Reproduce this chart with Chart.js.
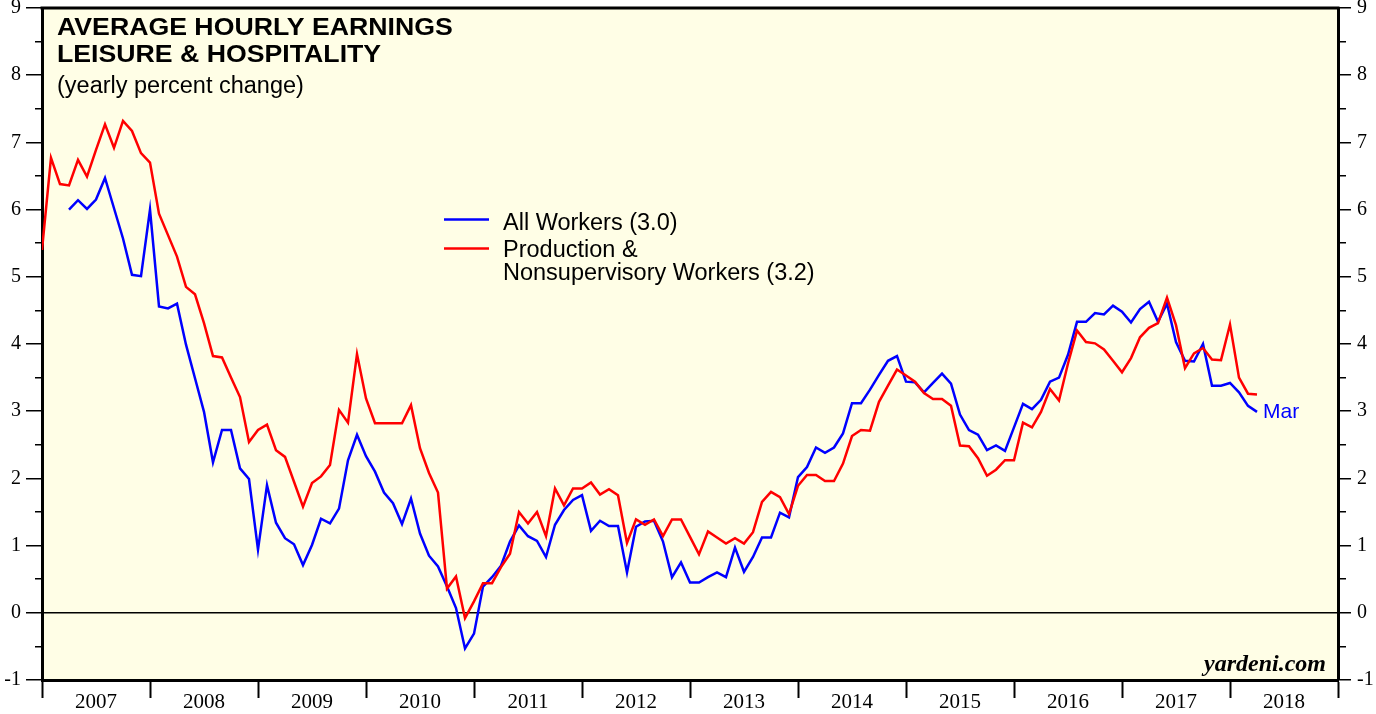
<!DOCTYPE html>
<html>
<head>
<meta charset="utf-8">
<title>Average Hourly Earnings: Leisure &amp; Hospitality</title>
<script src="https://cdn.jsdelivr.net/npm/chart.js@4.4.1/dist/chart.umd.min.js"></script>
<style>
  html, body { margin: 0; padding: 0; background: #fff; }
  #wrap { width: 1376px; height: 714px; }
</style>
</head>
<body>
<div id="wrap"><canvas id="c" width="1376" height="714"></canvas></div>
<script>
// Bottom axis labels, one per year (centred inside the year)
const YEARS = ['2007', '2008', '2009', '2010', '2011', '2012', '2013', '2014', '2015', '2016', '2017', '2018'];

// Yearly percent change, monthly from Dec 2006 to Mar 2018 (plotted at month end)
const PROD_WORKERS = [
  5.40,
  6.77, 6.38, 6.36, 6.74, 6.49, 6.89, 7.27, 6.92, 7.32, 7.17, 6.84, 6.70,
  5.94, 5.62, 5.30, 4.85, 4.74, 4.31, 3.82, 3.80, 3.50, 3.21, 2.54, 2.72,
  2.80, 2.42, 2.32, 1.95, 1.58, 1.93, 2.03, 2.20, 3.02, 2.83, 3.85, 3.19,
  2.82, 2.82, 2.82, 2.82, 3.09, 2.45, 2.08, 1.79, 0.36, 0.54, -0.08, 0.17,
  0.44, 0.44, 0.68, 0.88, 1.50, 1.33, 1.50, 1.14, 1.85, 1.60, 1.85, 1.85,
  1.94, 1.76, 1.84, 1.75, 1.04, 1.39, 1.31, 1.39, 1.14, 1.39, 1.39, 1.13,
  0.87, 1.21, 1.12, 1.03, 1.11, 1.03, 1.20, 1.65, 1.80, 1.72, 1.47, 1.89,
  2.05, 2.05, 1.96, 1.96, 2.22, 2.63, 2.72, 2.71, 3.14, 3.38, 3.62, 3.53,
  3.44, 3.27, 3.18, 3.18, 3.08, 2.49, 2.48, 2.30, 2.04, 2.13, 2.27, 2.27,
  2.83, 2.76, 2.99, 3.33, 3.16, 3.71, 4.20, 4.03, 4.01, 3.92, 3.75, 3.58,
  3.79, 4.10, 4.24, 4.31, 4.69, 4.28, 3.64, 3.86, 3.94, 3.77, 3.76, 4.29,
  3.50, 3.26, 3.25
];

const ALL_WORKERS = [
  null,
  null, null, 6.00, 6.14, 6.01, 6.15, 6.47, 6.02, 5.57, 5.03, 5.01, 6.00,
  4.56, 4.53, 4.60, 3.99, 3.49, 2.99, 2.24, 2.72, 2.72, 2.15, 1.99, 0.94,
  1.90, 1.34, 1.11, 1.02, 0.71, 1.01, 1.40, 1.33, 1.55, 2.27, 2.65, 2.33,
  2.10, 1.79, 1.63, 1.32, 1.70, 1.18, 0.85, 0.69, 0.39, 0.07, -0.53, -0.31,
  0.39, 0.53, 0.70, 1.06, 1.30, 1.14, 1.07, 0.83, 1.31, 1.53, 1.68, 1.75,
  1.22, 1.37, 1.29, 1.29, 0.60, 1.28, 1.36, 1.37, 1.06, 0.53, 0.75, 0.45,
  0.45, 0.53, 0.60, 0.53, 0.97, 0.61, 0.83, 1.12, 1.12, 1.49, 1.42, 2.02,
  2.17, 2.46, 2.38, 2.46, 2.67, 3.12, 3.12, 3.32, 3.54, 3.75, 3.82, 3.44,
  3.43, 3.28, 3.42, 3.56, 3.41, 2.95, 2.72, 2.65, 2.42, 2.49, 2.41, 2.76,
  3.11, 3.03, 3.17, 3.44, 3.50, 3.84, 4.33, 4.33, 4.46, 4.44, 4.57, 4.48,
  4.32, 4.52, 4.63, 4.33, 4.60, 4.03, 3.75, 3.74, 4.00, 3.38, 3.38, 3.42,
  3.28, 3.08, 2.99
];

const SERIES_NAMES = ['All Workers (3.0)', ['Production &', 'Nonsupervisory Workers (3.2)']];
const TITLE = ['AVERAGE HOURLY EARNINGS', 'LEISURE & HOSPITALITY'];
const SUBTITLE = '(yearly percent change)';
const LAST_LABEL = 'Mar';
const SOURCE = 'yardeni.com';

const BLUE = '#0000ff';
const RED = '#ff0000';
const PAPER = '#fffee6';

const toPoints = arr => arr.map((v, i) => ({ x: i, y: v }));

const serif = '"Liberation Serif", "Times New Roman", serif';
const sans = '"Liberation Sans", Arial, Helvetica, sans-serif';

// keep the frame where the original has it: no extra room for overhanging labels
const noOverhang = s => { s.paddingTop = 0; s.paddingBottom = 0; s.paddingLeft = 0; s.paddingRight = 0; };

// y axis ticks every 0.5; half steps only get a short mark
const yAxis = (side) => ({
  position: side,
  min: -1,
  max: 9,
  afterFit: s => { s.width = side === 'left' ? 42 : 38; noOverhang(s); },
  border: { display: true, color: '#000', width: 3 },
  grid: {
    drawOnChartArea: side === 'left',
    color: c => (c.tick && c.tick.value === 0 ? '#000' : 'rgba(0,0,0,0)'),
    lineWidth: 1.5,
    tickLength: side === 'left' ? 16 : 13,
    tickColor: '#000',
    tickWidth: 1.5,
    tickBorderDash: c => {
      if (!c.tick || Number.isInteger(c.tick.value)) return [];
      return side === 'left' ? [0, 9, 7, 0] : [6, 40];
    },
  },
  ticks: {
    stepSize: 0.5,
    autoSkip: false,
    padding: side === 'left' ? 5 : 6,
    color: '#000',
    font: { family: serif, size: 20 },
    callback: v => (Number.isInteger(v) ? String(v) : ''),
  },
});

const paper = {
  id: 'paper',
  beforeDraw(chart) {
    const { ctx, chartArea: a } = chart;
    ctx.save();
    ctx.fillStyle = '#fff';
    ctx.fillRect(0, 0, chart.width, chart.height);
    ctx.fillStyle = PAPER;
    ctx.fillRect(a.left, a.top, a.right - a.left, a.bottom - a.top);
    ctx.restore();
  },
  afterDraw(chart) {
    const { ctx, chartArea: a } = chart;
    ctx.save();
    // top frame line
    ctx.strokeStyle = '#000';
    ctx.lineWidth = 3;
    ctx.beginPath();
    ctx.moveTo(a.left - 1.5, a.top);
    ctx.lineTo(a.right + 1.5, a.top);
    ctx.stroke();

    // title, slightly wide like the original face
    ctx.fillStyle = '#000';
    ctx.textBaseline = 'alphabetic';
    ctx.textAlign = 'left';
    ctx.font = 'bold 23px ' + sans;
    [[TITLE[0], 35], [TITLE[1], 62]].forEach(([t, y]) => {
      ctx.save();
      ctx.translate(57, y);
      ctx.scale(1.16, 1);
      ctx.fillText(t, 0, 0);
      ctx.restore();
    });
    ctx.font = '23.5px ' + sans;
    ctx.fillText(SUBTITLE, 57, 93);

    // legend
    const legend = [[BLUE, 219.5, [SERIES_NAMES[0]], [229.5]], [RED, 248.5, SERIES_NAMES[1], [256.5, 280]]];
    ctx.font = '23.5px ' + sans;
    legend.forEach(([col, ly, lines, ys]) => {
      ctx.strokeStyle = col;
      ctx.lineWidth = 2.5;
      ctx.beginPath();
      ctx.moveTo(444, ly);
      ctx.lineTo(489, ly);
      ctx.stroke();
      ctx.fillStyle = '#000';
      lines.forEach((t, k) => ctx.fillText(t, 503, ys[k]));
    });

    // last month tag next to the blue line end
    const xs = chart.scales.x, ys = chart.scales.y;
    const lastI = ALL_WORKERS.length - 1;
    ctx.fillStyle = BLUE;
    ctx.font = '21px ' + sans;
    ctx.fillText(LAST_LABEL, xs.getPixelForValue(lastI) + 6, ys.getPixelForValue(ALL_WORKERS[lastI]) + 6);

    // source
    ctx.fillStyle = '#000';
    ctx.textAlign = 'right';
    ctx.font = 'italic bold 24px ' + serif;
    ctx.fillText(SOURCE, 1326, 671);
    ctx.restore();
  },
};

new Chart(document.getElementById('c'), {
  type: 'line',
  data: {
    datasets: [
      { label: 'All Workers', data: toPoints(ALL_WORKERS), borderColor: BLUE, order: 1 },
      { label: 'Production & Nonsupervisory Workers', data: toPoints(PROD_WORKERS), borderColor: RED, order: 0 },
    ],
  },
  options: {
    responsive: false,
    animation: false,
    layout: { padding: { top: 8, left: 0, right: 0, bottom: 0 } },
    elements: {
      point: { radius: 0 },
      line: { borderWidth: 2.5, tension: 0, fill: false },
    },
    plugins: { legend: { display: false }, tooltip: { enabled: false } },
    scales: {
      x: {
        type: 'linear',
        min: 0,
        max: YEARS.length * 12,
        afterFit: s => { s.height = 34; noOverhang(s); },
        border: { display: true, color: '#000', width: 3 },
        grid: {
          drawOnChartArea: false,
          tickLength: 18,
          tickWidth: 2,
          tickColor: c => (c.tick && c.tick.value % 12 === 0 ? '#000' : 'rgba(0,0,0,0)'),
        },
        ticks: {
          stepSize: 6,
          autoSkip: false,
          maxRotation: 0,
          padding: -8,
          color: '#000',
          font: { family: serif, size: 21 },
          callback: v => (v % 12 === 6 ? YEARS[(v - 6) / 12] : ''),
        },
      },
      y: yAxis('left'),
      y2: yAxis('right'),
    },
  },
  plugins: [paper],
});
</script>
</body>
</html>
